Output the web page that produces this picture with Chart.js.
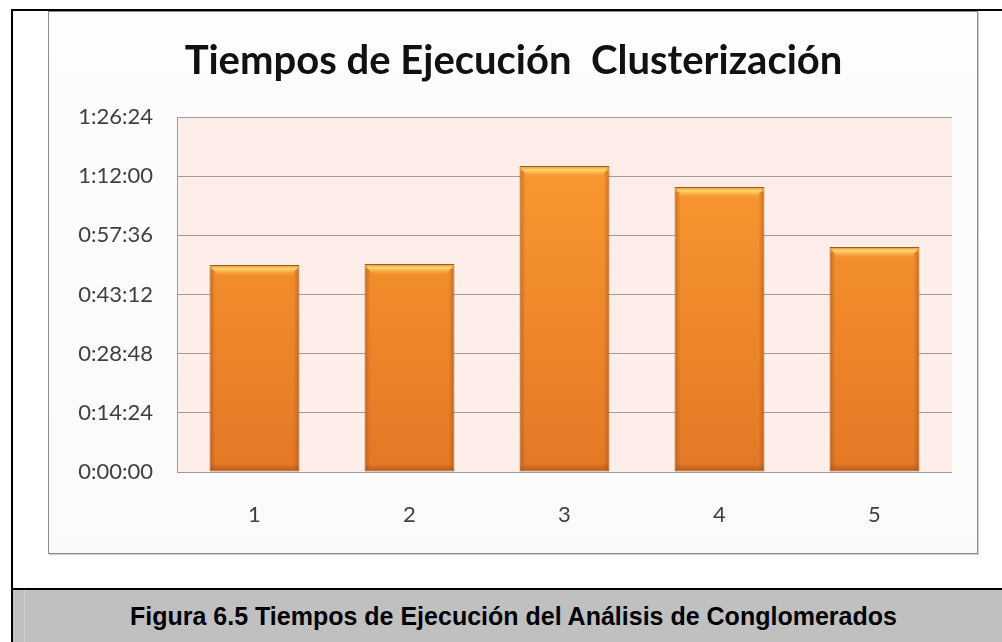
<!DOCTYPE html>
<html>
<head>
<meta charset="utf-8" />
<title>Tiempos de Ejecución Clusterización</title>
<script src="https://cdn.jsdelivr.net/npm/chart.js@4.4.1/dist/chart.umd.min.js"></script>
<style>
	html, body { margin: 0; padding: 0; background: #fff; }
	body { width: 1002px; height: 642px; position: relative; overflow: hidden; }
	.blk { position: absolute; background: #000; }
	#frame {
		position: absolute; left: 48px; top: 11px; width: 930px; height: 543px;
		box-sizing: border-box; border: 1px solid #8c8c8c;
		box-shadow: 1px 1px 0 #cfcfcf;
		background: linear-gradient(#fdfdfd, #fafafa);
	}
	#tiemposChart { position: absolute; left: 49px; top: 11px; }
	#caption {
		position: absolute; left: 13px; top: 590px; width: 989px; height: 52px;
		background: #c0c0c0;
		font: bold 25px/52px "Liberation Sans", Arial, sans-serif; color: #000;
	}
	#caption span { position: absolute; left: 117px; top: 0; white-space: nowrap; }
	#caption i { position: absolute; left: 11px; top: 0; width: 1px; height: 52px; background: #d2d2d2; }
</style>
</head>
<body>

<div class="blk" style="left:11px; top:9px; width:991px; height:2px;"></div>
<div class="blk" style="left:11px; top:9px; width:2px; height:633px;"></div>
<div class="blk" style="left:11px; top:588px; width:991px; height:2px;"></div>

<div id="frame"></div>
<canvas id="tiemposChart" width="929" height="543"></canvas>

<div id="caption"><i></i><span>Figura 6.5 Tiempos de Ejecución del Análisis de Conglomerados</span></div>

<script>
// datos (h:mm:ss)
var categorias = ['1', '2', '3', '4', '5']
var tiempos = ['0:50:23', '0:50:37', '1:14:28', '1:09:22', '0:54:46']
var marcasY = ['0:00:00', '0:14:24', '0:28:48', '0:43:12', '0:57:36', '1:12:00', '1:26:24']

function aSegundos(t) {
	var p = t.split(':')
	return parseInt(p[0]) * 3600 + parseInt(p[1]) * 60 + parseInt(p[2])
}
function aTexto(s) {
	var h = Math.floor(s / 3600)
	var m = Math.floor((s % 3600) / 60)
	var sec = Math.round(s % 60)
	return h + ':' + (m < 10 ? '0' : '') + m + ':' + (sec < 10 ? '0' : '') + sec
}

var valores = tiempos.map(aSegundos)

// fondo rosado del area de trazado
var fondoPlot = {
	id: 'fondoPlot',
	beforeDraw: function(chart) {
		var a = chart.chartArea, c = chart.ctx
		var g = c.createLinearGradient(0, a.top, 0, a.bottom)
		g.addColorStop(0, '#fcede8')
		g.addColorStop(1, '#fdeee9')
		c.save()
		c.fillStyle = g
		c.fillRect(a.left, a.top, a.right - a.left, a.bottom - a.top)
		c.restore()
	}
}

// biselado de las barras
var bisel = {
	id: 'bisel',
	afterDatasetsDraw: function(chart) {
		var c = chart.ctx
		chart.getDatasetMeta(0).data.forEach(function(bar) {
			var l = bar.x - bar.width / 2 + 1, r = bar.x + bar.width / 2 - 1
			var t = bar.y + 1, b = bar.base - 1
			c.save()
			// arriba
			var g = c.createLinearGradient(0, t, 0, t + 10)
			g.addColorStop(0, '#f0a040')
			g.addColorStop(0.3, '#ffd872')
			g.addColorStop(1, 'rgba(252,165,60,0)')
			c.fillStyle = g
			c.beginPath()
			c.moveTo(l, t); c.lineTo(r, t); c.lineTo(r - 7, t + 10); c.lineTo(l + 7, t + 10)
			c.closePath(); c.fill()
			// lados
			var gl = c.createLinearGradient(l, 0, l + 5, 0)
			gl.addColorStop(0, 'rgba(160,80,20,0.45)')
			gl.addColorStop(1, 'rgba(160,80,20,0)')
			c.fillStyle = gl
			c.fillRect(l, t + 4, 5, b - t - 4)
			var gr = c.createLinearGradient(r, 0, r - 5, 0)
			gr.addColorStop(0, 'rgba(160,80,20,0.45)')
			gr.addColorStop(1, 'rgba(160,80,20,0)')
			c.fillStyle = gr
			c.fillRect(r - 5, t + 4, 5, b - t - 4)
			// abajo
			var gb = c.createLinearGradient(0, b, 0, b - 7)
			gb.addColorStop(0, 'rgba(150,70,20,0.5)')
			gb.addColorStop(1, 'rgba(150,70,20,0)')
			c.fillStyle = gb
			c.fillRect(l, b - 7, r - l, 7)
			c.restore()
		})
	}
}

new Chart('tiemposChart', {
	type: 'bar',
	data: {
		labels: categorias,
		datasets: [{
			data: valores,
			backgroundColor: function(ctx) {
				var a = ctx.chart.chartArea
				if (!a) return '#f7962a'
				var g = ctx.chart.ctx.createLinearGradient(0, a.top, 0, a.bottom)
				g.addColorStop(0, '#fc9c30')
				g.addColorStop(1, '#e37826')
				return g
			},
			borderColor: '#9e5a22',
			borderWidth: 1,
			borderSkipped: false,
			categoryPercentage: 1,
			barPercentage: 0.58
		}]
	},
	plugins: [fondoPlot, bisel],
	options: {
		responsive: false,
		animation: false,
		layout: { padding: 0 },
		plugins: {
			legend: { display: false },
			tooltip: { enabled: false },
			title: {
				display: true,
				text: 'Tiempos de Ejecución  Clusterización',
				color: '#111',
				font: { family: 'Lato', size: 40, weight: 'bold' },
				padding: { top: 26, bottom: 32 }
			}
		},
		scales: {
			x: {
				afterFit: function(s) { s.height = 82 },
				grid: { display: false, drawTicks: false },
				border: { display: false },
				ticks: {
					color: '#404040',
					padding: 30,
					font: { family: 'Lato', size: 22 }
				}
			},
			y: {
				min: 0,
				max: aSegundos(marcasY[marcasY.length - 1]),
				afterFit: function(s) { s.width = 128 },
				grid: { color: '#a19c9a', lineWidth: 1, drawTicks: false },
				border: { display: true, color: '#a19c9a' },
				ticks: {
					stepSize: aSegundos(marcasY[1]),
					color: '#404040',
					padding: 24,
					font: { family: 'Lato', size: 22 },
					callback: function(v) { return aTexto(v) }
				}
			},
			// margen derecho vacio
			yDer: {
				type: 'linear',
				position: 'right',
				afterFit: function(s) { s.width = 26 },
				grid: { display: false, drawTicks: false },
				border: { display: false },
				ticks: { display: false }
			}
		}
	}
})
</script>

</body>
</html>
